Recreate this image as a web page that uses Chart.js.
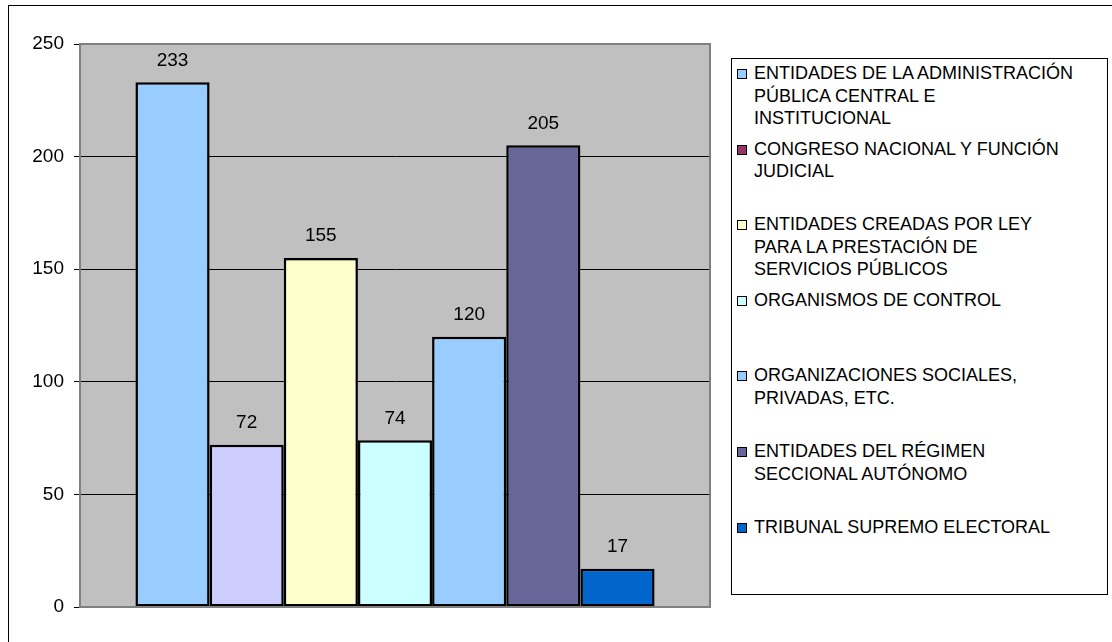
<!DOCTYPE html>
<html>
<head>
<meta charset="utf-8">
<script src="https://cdn.jsdelivr.net/npm/chart.js@4.4.1/dist/chart.umd.min.js"></script>
<style>
  html, body { margin: 0; padding: 0; background: #fff; }
  #wrap { position: relative; width: 1112px; height: 642px; overflow: hidden; font-family: "Liberation Sans", Arial, sans-serif; }
  #frame { position: absolute; left: 8px; top: 5px; width: 1200px; height: 700px; border: 1px solid #000; }
  #box { position: absolute; left: 0; top: 0; width: 1112px; height: 642px; }
  #legend { position: absolute; left: 731px; top: 58px; width: 375px; height: 535px; border: 1px solid #000; background: #fff; }
  .item { position: absolute; left: 0; height: 75px; width: 100%; }
  .mark { position: absolute; left: 5px; top: 7px; width: 8px; height: 8px; border: 1.5px solid #000; }
  .txt { position: absolute; left: 22px; top: 0px; font-size: 18px; line-height: 22.5px; color: #000; white-space: nowrap; }
</style>
</head>
<body>
<div id="wrap">
  <div id="frame"></div>
  <div id="box"><canvas id="barChart"></canvas></div>
  <div id="legend"></div>
</div>
<script>
"use strict";

const seriesNames = [
    ['ENTIDADES DE LA ADMINISTRACIÓN', 'PÚBLICA CENTRAL E', 'INSTITUCIONAL'],
    ['CONGRESO NACIONAL Y FUNCIÓN', 'JUDICIAL'],
    ['ENTIDADES CREADAS POR LEY', 'PARA LA PRESTACIÓN DE', 'SERVICIOS PÚBLICOS'],
    ['ORGANISMOS DE CONTROL'],
    ['ORGANIZACIONES SOCIALES,', 'PRIVADAS, ETC.'],
    ['ENTIDADES DEL RÉGIMEN', 'SECCIONAL AUTÓNOMO'],
    ['TRIBUNAL SUPREMO ELECTORAL']
];
const seriesValues = [233, 72, 155, 74, 120, 205, 17];
const barColors = ['#99CCFF', '#CCCCFF', '#FFFFCC', '#CCFFFF', '#99CCFF', '#666699', '#0066CC'];
const legendColors = ['#99CCFF', '#993366', '#FFFFCC', '#CCFFFF', '#99CCFF', '#666699', '#0066CC'];
const yTicks = [0, 50, 100, 150, 200, 250];

// legend (its swatch colours differ from the bars, as in the original)
const legend = document.getElementById('legend');
seriesNames.forEach((lines, i) => {
    const item = document.createElement('div');
    item.className = 'item';
    item.style.top = (i * 75.6 + 3) + 'px';
    const mark = document.createElement('div');
    mark.className = 'mark';
    mark.style.background = legendColors[i];
    const txt = document.createElement('div');
    txt.className = 'txt';
    txt.innerHTML = lines.join('<br>');
    item.appendChild(mark);
    item.appendChild(txt);
    legend.appendChild(item);
});

const plotFrame = {
    id: 'plotFrame',
    beforeDraw(chart) {
        const a = chart.chartArea, c = chart.ctx;
        c.save();
        c.fillStyle = '#C0C0C0';
        c.fillRect(a.left, a.top, a.right - a.left, a.bottom - a.top);
        c.restore();
    },
    afterDatasetsDraw(chart) {
        const a = chart.chartArea, c = chart.ctx;
        c.save();
        c.strokeStyle = '#808080';
        c.lineWidth = 2;
        c.beginPath();
        c.moveTo(a.left, a.top);
        c.lineTo(a.right, a.top);
        c.lineTo(a.right, a.bottom);
        c.lineTo(a.left, a.bottom);
        c.stroke();
        // value labels
        c.fillStyle = '#000';
        c.font = '19px "Liberation Sans", Arial, sans-serif';
        c.textAlign = 'center';
        c.textBaseline = 'middle';
        chart.data.datasets.forEach((ds, i) => {
            const bar = chart.getDatasetMeta(i).data[0];
            c.fillText(String(ds.data[0]), bar.x, bar.y - 22);
        });
        c.restore();
    }
};

const ctx = document.getElementById('barChart').getContext('2d');

new Chart(ctx, {
    type: 'bar',
    data: {
        labels: [''],
        datasets: seriesNames.map((n, i) => ({
            label: n.join(' '),
            data: [seriesValues[i]],
            backgroundColor: barColors[i],
            borderColor: '#000',
            borderWidth: 2.5,
            borderSkipped: false,
            barPercentage: 1,
            categoryPercentage: 0.824
        }))
    },
    options: {
        responsive: true,
        maintainAspectRatio: false,
        animation: false,
        layout: { padding: { left: 0, top: 44, right: 402, bottom: 35 } },
        plugins: {
            legend: { display: false },
            tooltip: { enabled: false }
        },
        scales: {
            x: { display: false },
            y: {
                min: 0,
                max: 250,
                afterBuildTicks: (s) => { s.ticks = yTicks.map(v => ({ value: v })); },
                afterFit: (s) => { s.width = 80; },
                grid: { color: '#000', lineWidth: 1, tickLength: 6, tickColor: '#000' },
                border: { color: '#808080', width: 2 },
                ticks: {
                    color: '#000',
                    padding: 10,
                    font: { family: '"Liberation Sans", Arial, sans-serif', size: 19 }
                }
            }
        }
    },
    plugins: [plotFrame]
});
</script>
</body>
</html>
